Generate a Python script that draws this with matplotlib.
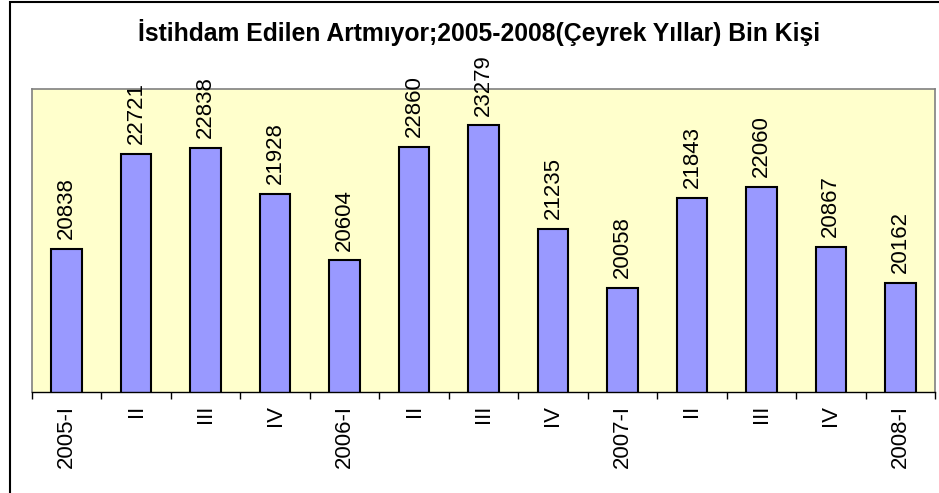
import matplotlib.pyplot as plt
from matplotlib.patches import Rectangle

# data (thousand persons)
quarters = ['2005-I', 'II', 'III', 'IV', '2006-I', 'II', 'III', 'IV',
            '2007-I', 'II', 'III', 'IV', '2008-I']
employed = [20838, 22721, 22838, 21928, 20604, 22860, 23279, 21235,
            20058, 21843, 22060, 20867, 20162]

plt.rcParams['font.family'] = ['Liberation Sans', 'DejaVu Sans']

fig = plt.figure(figsize=(9.39, 4.93), dpi=100)
W, H = 939, 493

# outer chart border (only left and top edges show in the reference)
fig.patches.append(Rectangle((10 / W, -0.1), 1.2, (H - 2) / H + 0.1,
                             transform=fig.transFigure, fill=False,
                             edgecolor='black', linewidth=1.5))

ax = fig.add_axes([32 / W, 1 - 392 / H, (935 - 32) / W, (392 - 89) / H])
ax.set_facecolor('#FFFFCC')

x = list(range(len(quarters)))
bars = ax.bar(x, employed, width=0.44, color='#9999FF',
              edgecolor='black', linewidth=1.5, zorder=2)

for xi, v in zip(x, employed):
    ax.annotate(str(v), (xi, v), xytext=(0, 7), textcoords='offset points',
                rotation=90, ha='center', va='bottom', fontsize=16,
                annotation_clip=False)

ax.set_xlim(-0.5, len(quarters) - 0.5)
ax.set_ylim(18000, 24000)
ax.set_yticks([])

# ticks between categories, labels centered under bars
ax.set_xticks([i - 0.5 for i in range(len(quarters) + 1)])
ax.set_xticklabels([])
ax.set_xticks(x, minor=True)
ax.set_xticklabels(quarters, minor=True, rotation=90, fontsize=16, va='top')
ax.tick_params(axis='x', which='major', length=5, width=1, color='black')
ax.tick_params(axis='x', which='minor', length=0, pad=9)

for side in ['top', 'left', 'right']:
    ax.spines[side].set_color('#808080')
    ax.spines[side].set_linewidth(1.2)
ax.spines['bottom'].set_color('black')
ax.spines['bottom'].set_linewidth(1)

fig.text(479 / W, 1 - 33 / H, 'İstihdam Edilen Artmıyor;2005-2008(Çeyrek Yıllar) Bin Kişi',
         ha='center', va='center', fontsize=17.8, fontweight='bold')

fig.savefig('out.png', dpi=100)
